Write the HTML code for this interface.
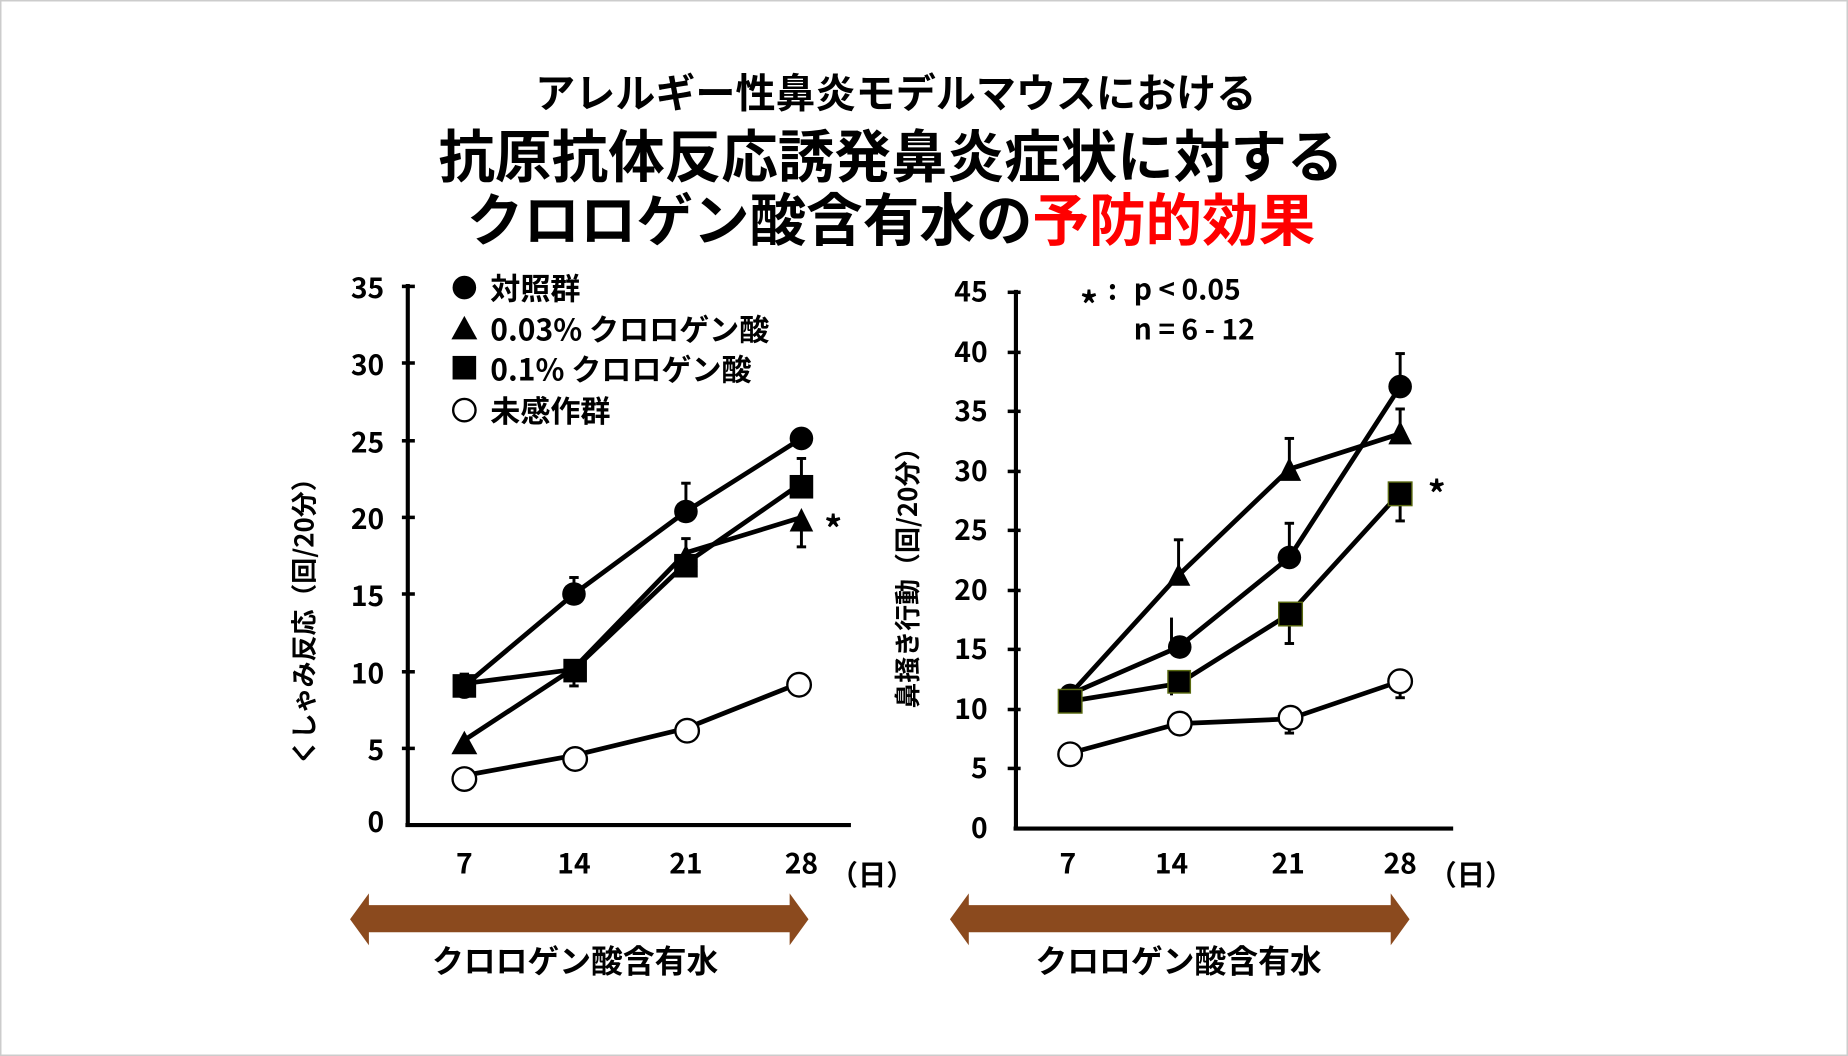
<!DOCTYPE html>
<html><head><meta charset="utf-8"><style>
html,body{margin:0;padding:0;background:#fff;}
svg{display:block;}
text{font-family:"Noto Sans CJK JP","Liberation Sans",sans-serif;font-weight:bold;fill:#000;}
</style></head><body>
<svg width="1848" height="1056" viewBox="0 0 1568 896" xmlns="http://www.w3.org/2000/svg">
<rect x="0.5" y="0.5" width="1567" height="895" fill="#fff" stroke="#ccc" stroke-width="1.5"/>
<g text-anchor="middle">
<text x="760" y="91" font-size="34">アレルギー性鼻炎モデルマウスにおける</text>
<text x="756" y="150" font-size="48">抗原抗体反応誘発鼻炎症状に対する</text>
<text x="756" y="204" font-size="48">クロロゲン酸含有水の<tspan style="fill:#f00">予防的効果</tspan></text>
</g>

<!-- LEFT CHART -->
<g stroke="#000" stroke-width="3.5" fill="none">
<line x1="346" y1="241" x2="346" y2="701"/>
<line x1="344" y1="700" x2="722" y2="700"/>
</g>
<g stroke="#000" stroke-width="3">
<line x1="341" y1="243" x2="352" y2="243"/><line x1="341" y1="308" x2="352" y2="308"/><line x1="341" y1="374" x2="352" y2="374"/><line x1="341" y1="439" x2="352" y2="439"/><line x1="341" y1="504" x2="352" y2="504"/><line x1="341" y1="570" x2="352" y2="570"/><line x1="341" y1="635" x2="352" y2="635"/>
</g>
<g font-size="24" text-anchor="end">
<text x="326" y="253">35</text><text x="326" y="318">30</text><text x="326" y="384">25</text><text x="326" y="449">20</text><text x="326" y="514">15</text><text x="326" y="580">10</text><text x="326" y="645">5</text><text x="326" y="706">0</text>
</g>
<g font-size="24" text-anchor="middle">
<text x="394" y="741">7</text><text x="487" y="741">14</text><text x="582" y="741">21</text><text x="680" y="741">28</text>
<text x="740" y="751">（日）</text>
</g>
<text font-size="22" transform="translate(266,522) rotate(-90)" text-anchor="middle">くしゃみ反応（回/20分）</text>
<circle cx="394" cy="244" r="10" fill="#000"/>
<polygon points="394,268 383,288 405,288" fill="#000"/>
<rect x="384" y="302" width="20" height="20" fill="#000"/>
<circle cx="394" cy="348" r="9.5" fill="#fff" stroke="#000" stroke-width="2"/>
<g font-size="25.5">
<text x="416" y="254">対照群</text><text x="416" y="289">0.03% クロロゲン酸</text><text x="416" y="323">0.1% クロロゲン酸</text><text x="416" y="358">未感作群</text>
</g>
<g stroke="#000" stroke-width="2.5">
<line x1="394" y1="581" x2="394" y2="572"/><line x1="390" y1="572" x2="398" y2="572"/>
<line x1="487" y1="501" x2="487" y2="490"/><line x1="483" y1="490" x2="491" y2="490"/>
<line x1="582" y1="432" x2="582" y2="410"/><line x1="578" y1="410" x2="586" y2="410"/>
<line x1="582" y1="470" x2="582" y2="457"/><line x1="578" y1="457" x2="586" y2="457"/>
<line x1="680" y1="410" x2="680" y2="389"/><line x1="676" y1="389" x2="684" y2="389"/>
<line x1="680" y1="440" x2="680" y2="464"/><line x1="676" y1="464" x2="684" y2="464"/>
<line x1="487" y1="568" x2="487" y2="582"/><line x1="483" y1="582" x2="491" y2="582"/>
</g>
<g stroke="#000" stroke-width="4" fill="none">
<polyline points="394,582 487,504 582,434 680,372"/>
<polyline points="394,628 487,567 582,469 680,439"/>
<polyline points="394,580 487,568 582,478 680,410"/>
<polyline points="394,658 487,641 582,618 680,579"/>
</g>
<circle cx="487" cy="504" r="10" fill="#000"/><circle cx="582" cy="434" r="10" fill="#000"/><circle cx="680" cy="372" r="10" fill="#000"/><circle cx="394" cy="584" r="9" fill="#000"/>
<polygon points="394,620 383,640 405,640" fill="#000"/><polygon points="582,462 572,481 592,481" fill="#000"/><polygon points="680,431 670,451 690,451" fill="#000"/>
<rect x="384" y="572" width="20" height="20" fill="#000"/><rect x="478" y="559" width="20" height="20" fill="#000"/><rect x="572" y="470" width="20" height="20" fill="#000"/><rect x="670" y="403" width="20" height="20" fill="#000"/>
<g fill="#fff" stroke="#000" stroke-width="2"><circle cx="394" cy="661" r="10"/><circle cx="488" cy="644" r="10"/><circle cx="583" cy="620" r="10"/><circle cx="678" cy="581" r="10"/></g>
<text x="707" y="460" font-size="30" text-anchor="middle">*</text>
<polygon points="297,780 313,758 313,768 670,768 670,758 686,780 670,802 670,791 313,791 313,802" fill="#8B4A1E"/>
<text x="488" y="825" font-size="27" text-anchor="middle">クロロゲン酸含有水</text>

<!-- RIGHT CHART -->
<g stroke="#000" stroke-width="3.5" fill="none">
<line x1="862" y1="246" x2="862" y2="704"/>
<line x1="860" y1="703" x2="1233" y2="703"/>
</g>
<g stroke="#000" stroke-width="3">
<line x1="855" y1="248" x2="866" y2="248"/><line x1="855" y1="299" x2="866" y2="299"/><line x1="855" y1="349" x2="866" y2="349"/><line x1="855" y1="400" x2="866" y2="400"/><line x1="855" y1="450" x2="866" y2="450"/><line x1="855" y1="501" x2="866" y2="501"/><line x1="855" y1="551" x2="866" y2="551"/><line x1="855" y1="602" x2="866" y2="602"/><line x1="855" y1="652" x2="866" y2="652"/>
</g>
<g font-size="24" text-anchor="end">
<text x="838" y="256">45</text><text x="838" y="307">40</text><text x="838" y="357">35</text><text x="838" y="408">30</text><text x="838" y="458">25</text><text x="838" y="509">20</text><text x="838" y="559">15</text><text x="838" y="610">10</text><text x="838" y="660">5</text><text x="838" y="711">0</text>
</g>
<g font-size="24" text-anchor="middle">
<text x="906" y="741">7</text><text x="994" y="741">14</text><text x="1093" y="741">21</text><text x="1188" y="741">28</text>
<text x="1248" y="751">（日）</text>
</g>
<text font-size="22" transform="translate(778,485) rotate(-90)" text-anchor="middle">鼻掻き行動（回/20分）</text>
<text x="924" y="270" font-size="30" text-anchor="middle">*</text>
<g font-size="24"><text x="940" y="254">:</text><text x="962" y="254">p &lt; 0.05</text><text x="962" y="288">n = 6 - 12</text></g>
<g stroke="#000" stroke-width="2.5">
<line x1="1000" y1="485" x2="1000" y2="458"/><line x1="996" y1="458" x2="1004" y2="458"/>
<line x1="994" y1="548" x2="994" y2="524"/>
<line x1="1094" y1="400" x2="1094" y2="372"/><line x1="1090" y1="372" x2="1098" y2="372"/>
<line x1="1094" y1="470" x2="1094" y2="444"/><line x1="1090" y1="444" x2="1098" y2="444"/>
<line x1="1094" y1="522" x2="1094" y2="546"/><line x1="1090" y1="546" x2="1098" y2="546"/>
<line x1="1188" y1="328" x2="1188" y2="300"/><line x1="1184" y1="300" x2="1192" y2="300"/>
<line x1="1188" y1="368" x2="1188" y2="347"/><line x1="1184" y1="347" x2="1192" y2="347"/>
<line x1="1188" y1="420" x2="1188" y2="442"/><line x1="1184" y1="442" x2="1192" y2="442"/>
<line x1="994" y1="580" x2="994" y2="590"/>
<line x1="1094" y1="610" x2="1094" y2="622"/><line x1="1090" y1="622" x2="1098" y2="622"/>
<line x1="1188" y1="580" x2="1188" y2="592"/><line x1="1184" y1="592" x2="1192" y2="592"/>
</g>
<g stroke="#000" stroke-width="4" fill="none">
<polyline points="908,589 1000,488 1094,398 1188,368"/>
<polyline points="908,589 1000,549 1094,473 1188,328"/>
<polyline points="908,595 1000,580 1094,521 1188,418"/>
<polyline points="908,639 1000,614 1094,610 1188,578"/>
</g>
<circle cx="908" cy="589" r="9" fill="#000"/><circle cx="1001" cy="549" r="10" fill="#000"/><circle cx="1094" cy="473" r="10" fill="#000"/><circle cx="1188" cy="328" r="10" fill="#000"/>
<polygon points="1000,478 990,497 1010,497" fill="#000"/><polygon points="1094,388 1084,408 1104,408" fill="#000"/><polygon points="1188,357 1178,377 1198,377" fill="#000"/>
<g fill="#000" stroke="#5a6a10" stroke-width="1.2">
<rect x="898" y="585" width="20" height="20"/><rect x="991" y="569" width="19" height="19"/><rect x="1085" y="511" width="20" height="20"/><rect x="1178" y="409" width="20" height="20"/>
</g>
<g fill="#fff" stroke="#000" stroke-width="2"><circle cx="908" cy="640" r="10"/><circle cx="1001" cy="614" r="10"/><circle cx="1095" cy="609" r="10"/><circle cx="1188" cy="578" r="10"/></g>
<text x="1219" y="430" font-size="30" text-anchor="middle">*</text>
<polygon points="806,780 822,758 822,768 1180,768 1180,758 1196,780 1180,802 1180,791 822,791 822,802" fill="#8B4A1E"/>
<text x="1000" y="825" font-size="27" text-anchor="middle">クロロゲン酸含有水</text>
</svg>
</body></html>
